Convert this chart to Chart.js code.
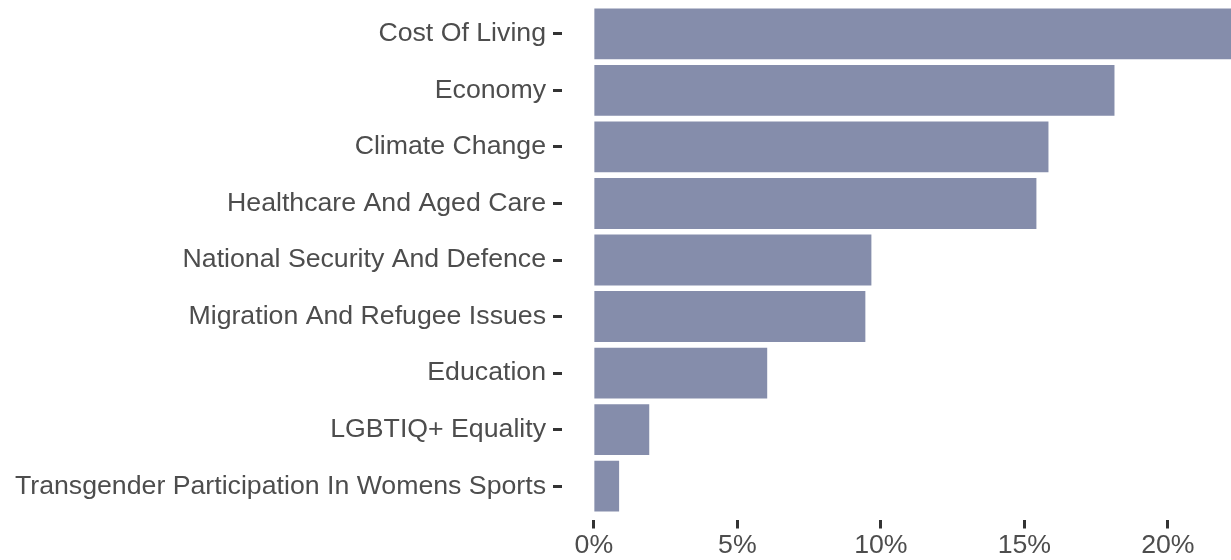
<!DOCTYPE html>
<html>
<head>
<meta charset="utf-8">
<script src="https://cdn.jsdelivr.net/npm/chart.js@4/dist/chart.umd.min.js"></script>
<style>
  html, body { margin: 0; padding: 0; background: #ffffff; }
  #wrap { width: 1231px; height: 560px; position: relative; }
</style>
</head>
<body>
<div id="wrap"><canvas id="c"></canvas></div>
<script>
const categories = [
  "Cost Of Living",
  "Economy",
  "Climate Change",
  "Healthcare And Aged Care",
  "National Security And Defence",
  "Migration And Refugee Issues",
  "Education",
  "LGBTIQ+ Equality",
  "Transgender Participation In Womens Sports"
];
const shares = [22.2, 18.14, 15.84, 15.42, 9.67, 9.46, 6.04, 1.93, 0.88];
const xTickStep = 5;
const xMin = -1.11;
const xMax = 22.2;

const fontFamily = '"Liberation Sans", Arial, Helvetica, sans-serif';
const textColor = '#4D4D4D';
const tickMarkColor = '#333333';

new Chart(document.getElementById('c'), {
  type: 'bar',
  data: {
    labels: categories,
    datasets: [{
      data: shares,
      backgroundColor: '#858DAB',
      borderWidth: 0,
      categoryPercentage: 0.9,
      barPercentage: 1.0
    }]
  },
  options: {
    indexAxis: 'y',
    responsive: true,
    maintainAspectRatio: false,
    animation: false,
    layout: { padding: { top: 5.6, right: 0, bottom: 0, left: 0 } },
    plugins: {
      legend: { display: false },
      tooltip: { enabled: false }
    },
    scales: {
      x: {
        type: 'linear',
        min: xMin,
        max: xMax,
        border: { display: false },
        grid: {
          drawOnChartArea: false,
          drawTicks: true,
          tickLength: 15,
          tickWidth: 3,
          tickColor: tickMarkColor,
          tickBorderDash: [0, 6, 8.5, 60]
        },
        ticks: {
          stepSize: xTickStep,
          includeBounds: false,
          padding: 3,
          color: textColor,
          font: { family: fontFamily, size: 26.7, lineHeight: 1.0 },
          maxRotation: 0,
          callback: (v) => v + '%'
        },
        afterFit: (s) => { s.height = 45.6; s.paddingLeft = 0; s.paddingRight = 0; }
      },
      y: {
        type: 'category',
        offset: true,
        border: { display: false },
        grid: {
          offset: false,
          drawOnChartArea: false,
          drawTicks: true,
          tickLength: 9,
          tickWidth: 3,
          tickColor: tickMarkColor
        },
        ticks: {
          padding: 7,
          color: textColor,
          font: { family: fontFamily, size: 26.7 },
          autoSkip: false
        },
        afterFit: (s) => { s.width = 562; s.paddingTop = 0; s.paddingBottom = 0; }
      }
    }
  }
});
</script>
</body>
</html>
